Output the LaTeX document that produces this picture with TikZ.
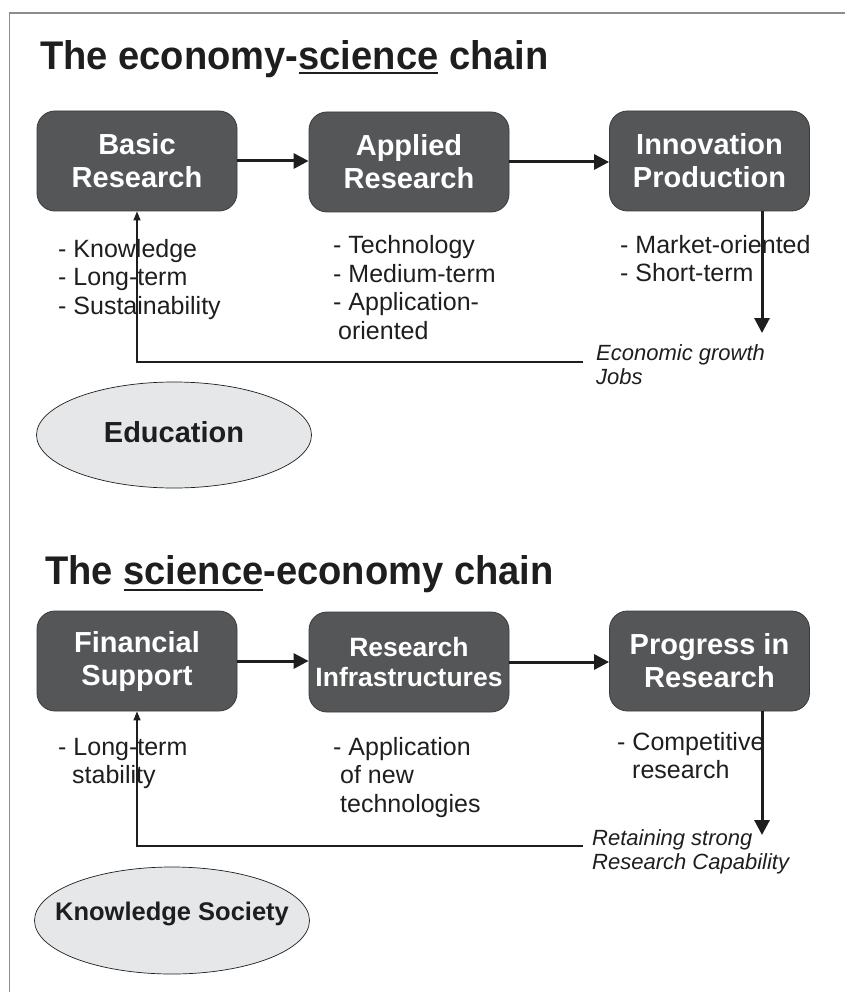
\documentclass[tikz,border=0pt]{standalone}
\usepackage{fontspec}
\setmainfont{Liberation Sans}
\usetikzlibrary{arrows.meta,shapes.geometric}
\definecolor{boxgray}{HTML}{555658}
\definecolor{boxedge}{HTML}{3A3A3C}
\definecolor{ellgray}{HTML}{E6E7E9}
\definecolor{framegray}{HTML}{8C8C8C}
\definecolor{ink}{HTML}{1E1E1E}
\newcommand\myul[2]{\setbox0\hbox{#2}\rlap{\rule[-#1]{\wd0}{2.4pt}}\box0\relax}
\begin{document}
\begin{tikzpicture}[x=1pt,y=-1pt,
  box/.style={draw=boxedge, line width=0.8pt, fill=boxgray, rounded corners=18pt,
    minimum width=200pt, minimum height=100pt, text=white, align=center, inner sep=0pt,
    font=\fontsize{29}{33}\selectfont\bfseries},
  ell/.style={ellipse, draw=ink, line width=0.7pt, fill=ellgray, inner sep=0pt,
    minimum width=275pt, text=ink},
  titletext/.style={anchor=base west, inner sep=0pt, text=ink, xscale=0.953, transform shape,
    font=\fontsize{40}{40}\selectfont\bfseries},
  bul/.style={anchor=base west, inner sep=0pt, align=left, text=ink,
    font=\fontsize{25}{28.5}\selectfont},
  outcome/.style={anchor=base west, inner sep=0pt, align=left, text=ink,
    font=\fontsize{22}{24}\selectfont\itshape},
  bigarrow/.style={draw=ink, line width=3pt, -{Triangle[length=15pt,width=15pt]}},
  fbarrow/.style={draw=ink, line width=1.3pt, -{Triangle[length=9pt,width=7pt]}}
]
\useasboundingbox (0,0) rectangle (844,992);
\draw[framegray, line width=1.6pt] (9.5,1000) -- (9.5,13) -- (850,13);

% ---------- top chain ----------
\node[titletext] (t1) at (40,70) {The economy-\myul{4pt}{science} chain};

\node[box] (b1) at (137,161) {Basic\\Research};
\node[box] (b2) at (409,162) {Applied\\Research};
\node[box] (b3) at (709.5,161) {Innovation\\Production};

\draw[bigarrow] (b1.east) -- (b1.east -| b2.west);
\draw[bigarrow] (b2.east) -- (b2.east -| b3.west);

% anchors are at the baseline of the last line
\node[bul] (k1) at (58,314) {- Knowledge\\- Long-term\\- Sustainability};
\node[bul] (k2) at (333,339) {- Technology\\- Medium-term\\- Application-\\\hspace*{5pt}oriented};
\node[bul] (k3) at (620,281.5) {- Market-oriented\\- Short-term};

\coordinate (d1) at (762,333);
\draw[bigarrow] (b3.south -| d1) -- (d1);
\node[outcome] (eg) at (596,384) {Economic growth\\Jobs};

\coordinate (f1) at (583,362);
\draw[fbarrow] (f1) -| (b1.south);

\node[ell, minimum height=106pt, font=\fontsize{29}{33}\selectfont\bfseries] (edu) at (174,435)
  {\makebox[0pt]{\raisebox{-7pt}[0pt][0pt]{Education}}};

% ---------- bottom chain ----------
\node[titletext] (t2) at (45,584) {The \myul{7pt}{science}-economy chain};

\node[box] (c1) at (137,661) {Financial\\Support};
\node[box, font=\fontsize{26.5}{30}\selectfont\bfseries] (c2) at (409,662) {Research\\Infrastructures};
\node[box] (c3) at (709.5,661) {Progress in\\Research};

\draw[bigarrow] (c1.east) -- (c1.east -| c2.west);
\draw[bigarrow] (c2.east) -- (c2.east -| c3.west);

\node[bul] (l1) at (58,783.5) {- Long-term\\\hspace*{14pt}stability};
\node[bul] (l2) at (333,812) {- Application\\\hspace*{7pt}of new\\\hspace*{7pt}technologies};
\node[bul] (l3) at (617,778.5) {- Competitive\\\hspace*{15pt}research};

\coordinate (d2) at (762,835);
\draw[bigarrow] (c3.south -| d2) -- (d2);
\node[outcome] (rs) at (592,869) {Retaining strong\\Research Capability};

\coordinate (f2) at (583,846);
\draw[fbarrow] (f2) -| (c1.south);

\node[ell, minimum height=107pt, font=\fontsize{25.5}{30}\selectfont\bfseries] (ks) at (172,920.5)
  {\makebox[0pt]{\raisebox{0pt}[0pt][0pt]{Knowledge Society}}};
\end{tikzpicture}
\end{document}
